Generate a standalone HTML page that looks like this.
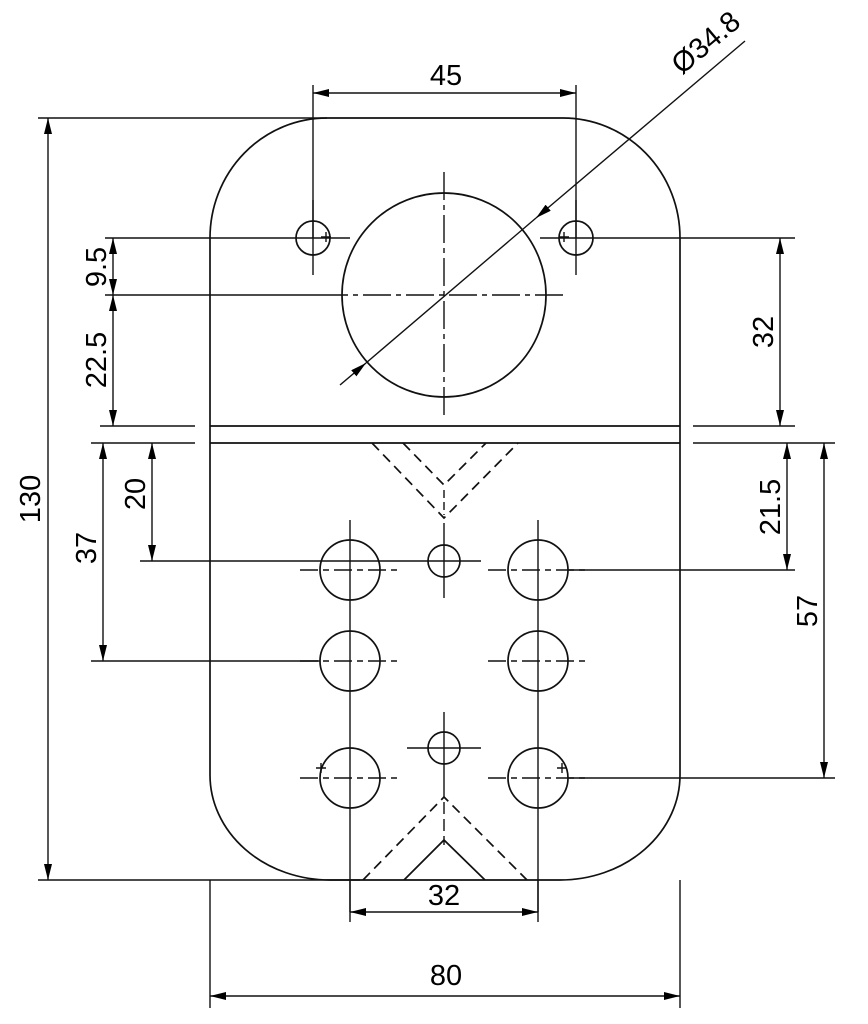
<!DOCTYPE html>
<html><head><style>html,body{margin:0;padding:0;background:#fff}svg{display:block}</style></head>
<body>
<svg width="868" height="1024" viewBox="0 0 868 1024" xmlns="http://www.w3.org/2000/svg" font-family="Liberation Sans, sans-serif">
<defs>
<marker id="a" viewBox="0 0 16 8" refX="16" refY="4" markerWidth="16" markerHeight="8" markerUnits="userSpaceOnUse" orient="auto-start-reverse"><path d="M0,0 L16,4 L0,8z" fill="#000"/></marker>
</defs>
<g stroke="#111" stroke-width="1.7" fill="none">
<path d="M210,238 A117,120 0 0 1 327,118 L563,118 A117,120 0 0 1 680,238 L680,775 A120,105 0 0 1 560,880 L330,880 A120,105 0 0 1 210,775 Z"/>
<line x1="210" y1="426" x2="680" y2="426"/>
<line x1="210" y1="443" x2="680" y2="443"/>
<circle cx="313" cy="238" r="17"/>
<circle cx="576" cy="238" r="17"/>
<circle cx="444" cy="295" r="102"/>
<circle cx="350" cy="570" r="30"/><circle cx="538" cy="570" r="30"/>
<circle cx="350" cy="661" r="30"/><circle cx="538" cy="661" r="30"/>
<circle cx="350" cy="778" r="30"/><circle cx="538" cy="778" r="30"/>
<circle cx="444" cy="561" r="16"/><circle cx="444" cy="748" r="16"/>
<path d="M372,443 L444,518 L518,443" stroke-dasharray="10,6"/>
<path d="M403,443 L444,485 L486,443" stroke-dasharray="10,6"/>
<path d="M363,880 L444,797 L527,880" stroke-dasharray="10,6"/>
<path d="M404,880 L444,840 L485,880"/>
</g>
<g stroke="#111" stroke-width="1.4" fill="none">
<line x1="444" y1="172" x2="444" y2="418" stroke-dasharray="28,5,5,5"/>
<line x1="320" y1="295" x2="567" y2="295" stroke-dasharray="28,5,5,5"/>
<line x1="275" y1="238" x2="350" y2="238"/><line x1="313" y1="200" x2="313" y2="275"/>
<line x1="540" y1="238" x2="613" y2="238"/><line x1="576" y1="200" x2="576" y2="275"/>
<line x1="300" y1="570" x2="400" y2="570" stroke-dasharray="18,5,6,5"/><line x1="350" y1="520" x2="350" y2="912"/>
<line x1="488" y1="570" x2="588" y2="570" stroke-dasharray="18,5,6,5"/><line x1="538" y1="520" x2="538" y2="912"/>
<line x1="300" y1="661" x2="400" y2="661" stroke-dasharray="18,5,6,5"/>
<line x1="488" y1="661" x2="588" y2="661" stroke-dasharray="18,5,6,5"/>
<line x1="300" y1="778" x2="400" y2="778" stroke-dasharray="18,5,6,5"/>
<line x1="488" y1="778" x2="588" y2="778" stroke-dasharray="18,5,6,5"/>
<line x1="407" y1="561" x2="481" y2="561"/><line x1="444" y1="523" x2="444" y2="598"/>
<line x1="407" y1="748" x2="481" y2="748"/><line x1="444" y1="712" x2="444" y2="785"/>
<line x1="444" y1="785" x2="444" y2="845" stroke-dasharray="12,5"/>
<line x1="444" y1="490" x2="444" y2="515" stroke-dasharray="8,4"/>
<path d="M321,763v10M316,768h10 M562,763v10M557,768h10 M326,232v10M321,237h10 M564,232v10M559,237h10"/>
<line x1="313" y1="85" x2="313" y2="238"/><line x1="576" y1="85" x2="576" y2="238"/>
<line x1="38" y1="118" x2="327" y2="118"/>
<line x1="38" y1="880" x2="360" y2="880"/>
<line x1="210" y1="880" x2="210" y2="1008"/><line x1="680" y1="880" x2="680" y2="1008"/>
<line x1="350" y1="880" x2="350" y2="922"/><line x1="538" y1="880" x2="538" y2="922"/>
<line x1="105" y1="238" x2="275" y2="238"/>
<line x1="105" y1="295" x2="320" y2="295"/>
<line x1="100" y1="426" x2="195" y2="426"/>
<line x1="91" y1="443" x2="195" y2="443"/>
<line x1="613" y1="238" x2="795" y2="238"/>
<line x1="693" y1="426" x2="795" y2="426"/>
<line x1="693" y1="443" x2="835" y2="443"/>
<line x1="140" y1="561" x2="407" y2="561"/>
<line x1="91" y1="661" x2="320" y2="661"/>
<line x1="568" y1="570" x2="795" y2="570"/>
<line x1="568" y1="778" x2="835" y2="778"/>
</g>
<g stroke="#111" stroke-width="1.4" fill="none" marker-start="url(#a)" marker-end="url(#a)">
<line x1="313" y1="93" x2="576" y2="93"/>
<line x1="48" y1="118" x2="48" y2="880"/>
<line x1="210" y1="996" x2="680" y2="996"/>
<line x1="350" y1="912" x2="538" y2="912"/>
<line x1="113" y1="238" x2="113" y2="295"/>
<line x1="113" y1="295" x2="113" y2="426"/>
<line x1="780" y1="238" x2="780" y2="426"/>
<line x1="787" y1="443" x2="787" y2="570"/>
<line x1="824" y1="443" x2="824" y2="778"/>
<line x1="152" y1="443" x2="152" y2="561"/>
<line x1="103" y1="443" x2="103" y2="661"/>
</g>
<line x1="745" y1="41" x2="536" y2="218" stroke="#111" stroke-width="1.4" marker-end="url(#a)"/>
<line x1="340" y1="385" x2="366" y2="363" stroke="#111" stroke-width="1.4" marker-end="url(#a)"/>
<line x1="366" y1="363" x2="536" y2="218" stroke="#111" stroke-width="1.4"/>
<g font-size="29" fill="#000" text-anchor="middle">
<text x="446" y="85">45</text>
<text x="446" y="985">80</text>
<text x="444" y="905">32</text>
<text transform="translate(40,499) rotate(-90)">130</text>
<text transform="translate(106,267) rotate(-90)">9.5</text>
<text transform="translate(106,360) rotate(-90)">22.5</text>
<text transform="translate(773,332) rotate(-90)">32</text>
<text transform="translate(780,507) rotate(-90)">21.5</text>
<text transform="translate(817,611) rotate(-90)">57</text>
<text transform="translate(145,494) rotate(-90)">20</text>
<text transform="translate(96,548) rotate(-90)">37</text>
<text transform="translate(712,50) rotate(-40)">Ø34.8</text>
</g>
</svg>
</body></html>
